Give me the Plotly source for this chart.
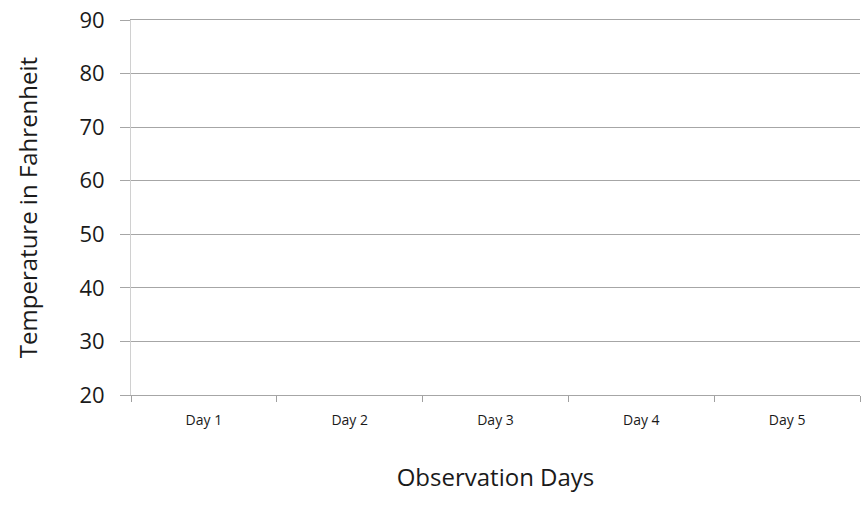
import plotly.graph_objects as go

categories = ["Day 1", "Day 2", "Day 3", "Day 4", "Day 5"]
temperatures = [None, None, None, None, None]
y_ticks = [20, 30, 40, 50, 60, 70, 80, 90]

FONT = "Open Sans"

fig = go.Figure()
fig.add_trace(go.Scatter(x=categories, y=temperatures, mode="lines",
                         showlegend=False, hoverinfo="skip"))

fig.update_layout(
    width=862, height=519,
    margin=dict(l=131, r=2, t=20, b=124, autoexpand=False),
    paper_bgcolor="white", plot_bgcolor="white",
    font=dict(family=FONT, color="#1a1a1a"),
    xaxis=dict(
        type="category", automargin=False,
        categoryorder="array", categoryarray=categories,
        range=[-0.5, len(categories) - 0.5],
        showgrid=False, zeroline=False,
        showline=True, mirror=True, linecolor="#a6a6a6", linewidth=1,
        ticks="outside", tickson="boundaries", ticklen=6, tickcolor="#a0a0a0",
        tickfont=dict(size=14, family=FONT),
        ticklabelstandoff=12,
        title=dict(text="Observation Days", font=dict(size=24, family=FONT), standoff=41),
    ),
    yaxis=dict(
        range=[20, 90], tickvals=y_ticks, automargin=False,
        showgrid=True, gridcolor="#a6a6a6", gridwidth=1,
        zeroline=False,
        showline=True, linecolor="#d0d0d0", linewidth=1,
        ticks="outside", ticklen=10, tickcolor="#a6a6a6",
        tickfont=dict(size=22, family=FONT),
        ticklabelstandoff=11, ticklabeloverflow="allow",
        title=dict(text="Temperature in Fahrenheit", font=dict(size=24, family=FONT), standoff=35),
    ),
)

fig.write_html("out.html", config={"displayModeBar": False},
               post_script="document.body.style.margin='0';")
